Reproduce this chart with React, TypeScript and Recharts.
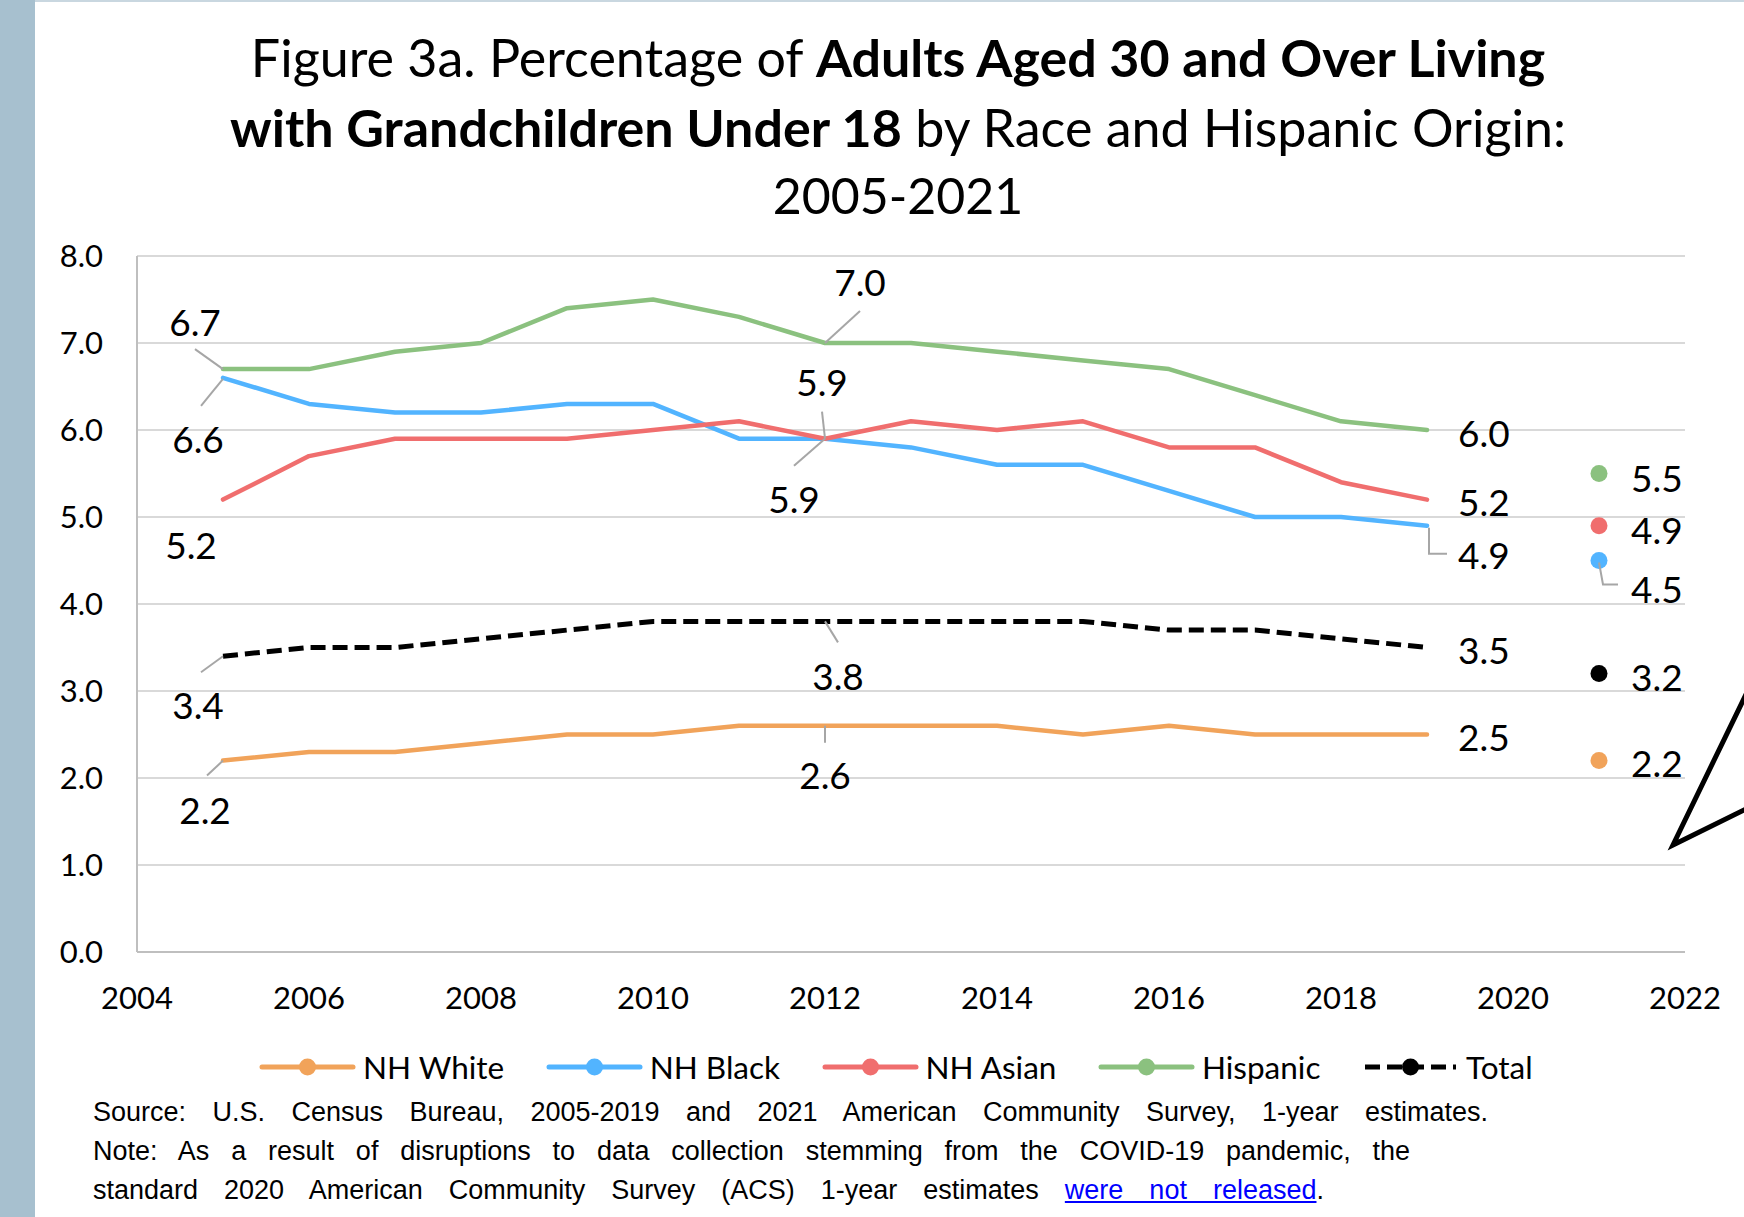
import React from 'react';
import { LineChart, Line, XAxis, YAxis, CartesianGrid, LabelList } from 'recharts';

// values; 2020 has no release, so it's a gap
const YEARS = [2005, 2006, 2007, 2008, 2009, 2010, 2011, 2012, 2013, 2014, 2015, 2016, 2017, 2018, 2019, 2020, 2021];
const NH_WHITE = [2.2, 2.3, 2.3, 2.4, 2.5, 2.5, 2.6, 2.6, 2.6, 2.6, 2.5, 2.6, 2.5, 2.5, 2.5, null, 2.2];
const NH_BLACK = [6.6, 6.3, 6.2, 6.2, 6.3, 6.3, 5.9, 5.9, 5.8, 5.6, 5.6, 5.3, 5.0, 5.0, 4.9, null, 4.5];
const NH_ASIAN = [5.2, 5.7, 5.9, 5.9, 5.9, 6.0, 6.1, 5.9, 6.1, 6.0, 6.1, 5.8, 5.8, 5.4, 5.2, null, 4.9];
const HISPANIC = [6.7, 6.7, 6.9, 7.0, 7.4, 7.5, 7.3, 7.0, 7.0, 6.9, 6.8, 6.7, 6.4, 6.1, 6.0, null, 5.5];
const TOTAL = [3.4, 3.5, 3.5, 3.6, 3.7, 3.8, 3.8, 3.8, 3.8, 3.8, 3.8, 3.7, 3.7, 3.6, 3.5, null, 3.2];

const X_TICKS = [2004, 2006, 2008, 2010, 2012, 2014, 2016, 2018, 2020, 2022];
const Y_TICKS = [0, 1, 2, 3, 4, 5, 6, 7, 8];

const table = YEARS.map((year, i) => ({
  year,
  white: NH_WHITE[i],
  black: NH_BLACK[i],
  asian: NH_ASIAN[i],
  hispanic: HISPANIC[i],
  total: TOTAL[i],
}));

const SERIES = [
  { key: 'white', name: 'NH White', color: '#F1A35A' },
  { key: 'black', name: 'NH Black', color: '#52B4FF' },
  { key: 'asian', name: 'NH Asian', color: '#F06E6E' },
  { key: 'hispanic', name: 'Hispanic', color: '#8BC17F' },
  { key: 'total', name: 'Total', color: '#000000', dashed: true },
];

// label placement relative to the point it belongs to
const right = { dx: 31, dy: 2, anchor: 'start' };
const dotRight = { dx: 32, dy: 4, anchor: 'start' };
const LABELS = {
  hispanic: {
    2005: { dx: -28, dy: -48, leader: [[-28, -20], [0, 0]] },
    2012: { dx: 35, dy: -62, leader: [[35, -32], [0, 0]] },
    2019: right,
    2021: dotRight,
  },
  black: {
    2005: { dx: -25, dy: 61, leader: [[-22, 28], [0, 1]] },
    2012: { dx: -31, dy: 60, leader: [[-31, 27], [0, 0]] },
    2019: { dx: 31, dy: 29, anchor: 'start', leader: [[2, 2], [2, 28], [20, 28]] },
    2021: { dx: 32, dy: 28, anchor: 'start', leader: [[0, 2], [4, 24], [19, 24]] },
  },
  asian: {
    2005: { dx: -32, dy: 45 },
    2012: { dx: -3, dy: -57, leader: [[-3, -27], [0, 0]] },
    2019: right,
    2021: dotRight,
  },
  total: {
    2005: { dx: -25, dy: 48, leader: [[-22, 16], [0, 0]] },
    2012: { dx: 13, dy: 54, leader: [[13, 21], [0, 0]] },
    2019: right,
    2021: { ...dotRight, dy: 3 },
  },
  white: {
    2005: { dx: -18, dy: 49, leader: [[-16, 15], [0, 0]] },
    2012: { dx: 0, dy: 49, leader: [[0, 17], [0, 0]] },
    2019: right,
    2021: { ...dotRight, dy: 2 },
  },
};

const CALIBRI = 'Lato, "Open Sans", sans-serif';

const makeLabel = (key) => (props) => {
  const { index, value } = props;
  const x = props.x ?? props.viewBox?.x;
  const y = props.y ?? props.viewBox?.y;
  const row = table[index];
  const cfg = row && LABELS[key][row.year];
  if (!cfg || value == null || x == null || y == null) return null;
  return (
    <g key={`lbl-${key}-${index}`}>
      {cfg.leader && (
        <polyline
          points={cfg.leader.map(([a, b]) => `${x + a},${y + b}`).join(' ')}
          fill="none"
          stroke="#a6a6a6"
          strokeWidth={2}
        />
      )}
      <text
        x={x + cfg.dx}
        y={y + cfg.dy}
        textAnchor={cfg.anchor || 'middle'}
        dominantBaseline="central"
        fontSize={37}
        fontFamily={CALIBRI}
        fill="#000"
      >
        {Number(value).toFixed(1)}
      </text>
    </g>
  );
};

// only the lone 2021 estimate gets a marker
const makeDot = (color) => (props) => {
  const { cx, cy, payload, index } = props;
  if (!payload || payload.year !== 2021 || cy == null) return <g key={`dot-${index}`} />;
  return <circle key={`dot-${index}`} cx={cx} cy={cy} r={8.5} fill={color} />;
};

const LegendItem = ({ s }) => (
  <div style={{ display: 'flex', alignItems: 'center' }}>
    <svg width={91} height={20} style={{ overflow: 'visible' }}>
      <line
        x1={0}
        y1={10}
        x2={91}
        y2={10}
        stroke={s.color}
        strokeWidth={5}
        strokeLinecap={s.dashed ? 'butt' : 'round'}
        strokeDasharray={s.dashed ? '15 7' : undefined}
      />
      <circle cx={45.5} cy={10} r={8.5} fill={s.color} />
    </svg>
    <span style={{ marginLeft: 10, fontSize: 31.5, fontFamily: CALIBRI, color: '#000', lineHeight: '40px' }}>{s.name}</span>
  </div>
);

const App = () => {
  return (
    <div
      style={{
        position: 'absolute',
        left: 0,
        top: 0,
        width: 1744,
        height: 1217,
        background: '#fff',
        overflow: 'hidden',
      }}
    >
      {/* slide frame */}
      <div style={{ position: 'absolute', left: 0, top: 0, width: 35, height: 1217, background: '#A7C0CF' }} />
      <div style={{ position: 'absolute', left: 35, top: 0, width: 1709, height: 2, background: '#C9D7E0' }} />

      {/* title */}
      <div style={{ position: 'absolute', left: 198, width: 1400, top: 0, textAlign: 'center', fontFamily: CALIBRI, fontSize: 52, color: '#000' }}>
        <div style={{ position: 'absolute', left: 0, right: 0, top: 26, lineHeight: '62px', whiteSpace: 'nowrap' }}>
          Figure 3a. Percentage of <b>Adults Aged 30 and Over Living</b>
        </div>
        <div style={{ position: 'absolute', left: 0, right: 0, top: 96, lineHeight: '62px', whiteSpace: 'nowrap' }}>
          <b>with Grandchildren Under 18</b> by Race and Hispanic Origin:
        </div>
        <div style={{ position: 'absolute', left: 0, right: 0, top: 164, lineHeight: '62px', whiteSpace: 'nowrap', fontSize: 50 }}>
          2005-2021
        </div>
      </div>

      <div style={{ position: 'absolute', left: 0, top: 0 }}>
        <LineChart width={1744} height={1217} data={table} margin={{ top: 256, right: 59, bottom: 205, left: 37 }}>
          <CartesianGrid vertical={false} stroke="#d9d9d9" strokeWidth={2} />
          <XAxis
            dataKey="year"
            type="number"
            domain={[2004, 2022]}
            ticks={X_TICKS}
            interval={0}
            height={60}
            tickLine={false}
            tickSize={0}
            tickMargin={35}
            axisLine={{ stroke: '#bfbfbf', strokeWidth: 2 }}
            tick={{ fontSize: 31, fill: '#000', fontFamily: CALIBRI }}
          />
          <YAxis
            type="number"
            domain={[0, 8]}
            ticks={Y_TICKS}
            interval={0}
            width={100}
            tickLine={false}
            tickSize={0}
            tickMargin={34}
            axisLine={{ stroke: '#bfbfbf', strokeWidth: 2 }}
            tickFormatter={(v) => Number(v).toFixed(1)}
            tick={{ fontSize: 31, fill: '#000', fontFamily: CALIBRI }}
          />
          {SERIES.map((s) => (
            <Line
              key={s.key}
              type="linear"
              dataKey={s.key}
              name={s.name}
              stroke={s.color}
              strokeWidth={s.dashed ? 5 : 4.5}
              strokeDasharray={s.dashed ? '15 7' : undefined}
              strokeLinecap={s.dashed ? 'butt' : 'round'}
              strokeLinejoin="round"
              dot={makeDot(s.color)}
              activeDot={false}
              connectNulls={false}
              isAnimationActive={false}
            >
              <LabelList dataKey={s.key} content={makeLabel(s.key)} />
            </Line>
          ))}
        </LineChart>
      </div>

      {/* callout shape cut off at the slide edge */}
      <svg style={{ position: 'absolute', left: 0, top: 0 }} width={1744} height={1217} pointerEvents="none">
        <polyline points="1750,686 1673,845 1750,807" fill="none" stroke="#000" strokeWidth={5} strokeLinejoin="miter" />
      </svg>

      {/* legend */}
      <div style={{ position: 'absolute', left: 262, top: 1047, display: 'flex', gap: 44.5 }}>
        {SERIES.map((s) => (
          <LegendItem key={s.key} s={s} />
        ))}
      </div>

      {/* source note */}
      <div style={{ position: 'absolute', left: 93, top: 1093, fontFamily: '"Liberation Sans", Arial, sans-serif', fontSize: 27, lineHeight: '39px', color: '#000' }}>
        <div style={{ width: 1395, textAlign: 'justify', textAlignLast: 'justify', whiteSpace: 'nowrap' }}>
          Source: U.S. Census Bureau, 2005-2019 and 2021 American Community Survey, 1-year estimates.
        </div>
        <div style={{ width: 1317, textAlign: 'justify', textAlignLast: 'justify', whiteSpace: 'nowrap' }}>
          Note: As a result of disruptions to data collection stemming from the COVID-19 pandemic, the
        </div>
        <div style={{ width: 1231, textAlign: 'justify', textAlignLast: 'justify', whiteSpace: 'nowrap' }}>
          standard 2020 American Community Survey (ACS) 1-year estimates{' '}
          <span style={{ color: '#0000ff', textDecoration: 'underline' }}>were not released</span>.
        </div>
      </div>
    </div>
  );
};

export default App;
